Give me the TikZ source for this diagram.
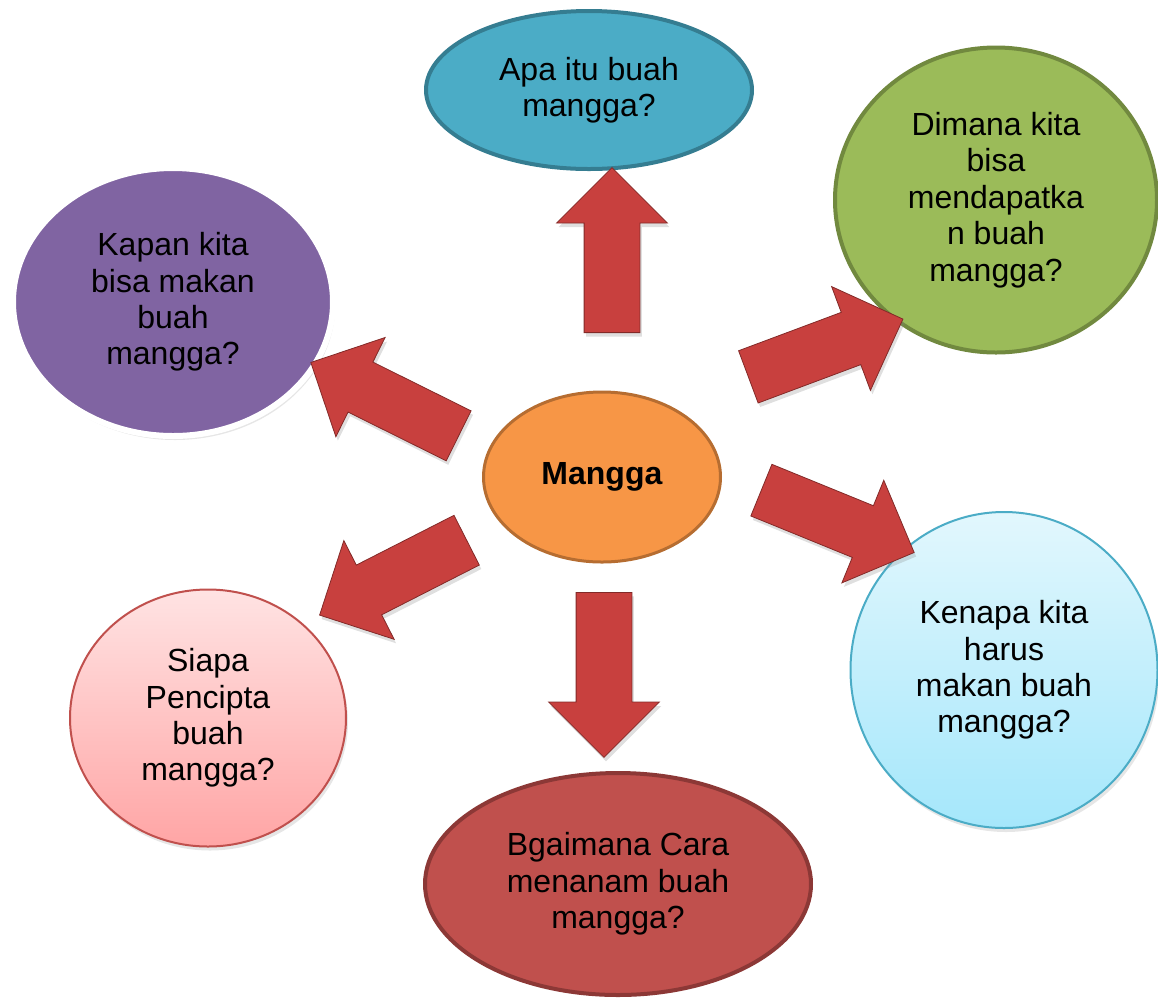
\documentclass[tikz,border=0pt]{standalone}
\usepackage{fontspec}
\setmainfont{Liberation Sans}
\usetikzlibrary{shapes.geometric, shapes.arrows, shadows}

\definecolor{tealfill}{HTML}{4BACC6}
\definecolor{tealline}{HTML}{357D91}
\definecolor{greenfill}{HTML}{9BBB59}
\definecolor{greenline}{HTML}{71893F}
\definecolor{purplefill}{HTML}{8064A2}
\definecolor{orangefill}{HTML}{F79646}
\definecolor{orangeline}{HTML}{B66D31}
\definecolor{redfill}{HTML}{C0504D}
\definecolor{redline}{HTML}{8C3836}
\definecolor{skytop}{HTML}{E2F7FD}
\definecolor{skybottom}{HTML}{A5E7FB}
\definecolor{pinktop}{HTML}{FFE3E3}
\definecolor{pinkbottom}{HTML}{FFA5A5}
\definecolor{arrowred}{HTML}{C8403E}

\tikzset{
	bubble/.style={ellipse, inner sep=0pt, align=center, text=black,
		font=\fontsize{16}{18.2}\selectfont},
	fatarrow/.style={single arrow, anchor=tail, draw=arrowred!65!black, line width=0.4pt,
		fill=arrowred, inner xsep=0pt, inner ysep=13.75pt,
		minimum width=55pt, minimum height=82.5pt,
		single arrow head extend=13.75pt, single arrow tip angle=90,
		drop shadow={shadow xshift=1pt, shadow yshift=-2pt, opacity=0.25}},
	softshadow/.style={drop shadow={shadow xshift=1pt, shadow yshift=-2pt, opacity=0.2}},
}

\begin{document}
\begin{tikzpicture}[x=0.5pt, y=-0.5pt]
\useasboundingbox (0,0) rectangle (1158,998);

% centre
\node [bubble, fill=orangefill, draw=orangeline, line width=1.5pt,
	minimum width=118.5pt, minimum height=85pt] (mangga) at (602,477) {\textbf{Mangga}};

% questions
\node [bubble, fill=tealfill, draw=tealline, line width=2pt,
	minimum width=163pt, minimum height=79pt] (apa) at (589,90) {Apa itu buah\\mangga?};
\node [bubble, fill=greenfill, draw=greenline, line width=2pt,
	minimum width=161pt, minimum height=152.5pt] (dimana) at (996,200)
	{Dimana kita\\bisa\\mendapatka\\n buah\\mangga?};
\node [bubble, softshadow, fill=purplefill, draw=white, line width=3pt,
	minimum width=160pt, minimum height=134pt] (kapan) at (173,302)
	{Kapan kita\\bisa makan\\buah\\mangga?};
\node [bubble, softshadow, top color=skytop, bottom color=skybottom, draw=tealfill, line width=1pt,
	minimum width=153.5pt, minimum height=158pt] (kenapa) at (1004,670)
	{Kenapa kita\\harus\\makan buah\\mangga?};
\node [bubble, softshadow, top color=pinktop, bottom color=pinkbottom, draw=redfill, line width=1pt,
	minimum width=138pt, minimum height=128.5pt] (siapa) at (208,718)
	{Siapa\\Pencipta\\buah\\mangga?};
\node [bubble, fill=redfill, draw=redline, line width=2pt,
	minimum width=193pt, minimum height=111pt] (bgaimana) at (618,884)
	{Bgaimana Cara\\menanam buah\\mangga?};

% arrows (placed by their tails)
\node [fatarrow, rotate=90] (toApa) at (612,333) {};
\node [fatarrow, rotate=20.5] (toDimana) at (748,377) {};
\node [fatarrow, rotate=153.6] (toKapan) at (459,436) {};
\node [fatarrow, rotate=207] (toSiapa) at (467,540) {};
\node [fatarrow, rotate=-90] (toBgaimana) at (604,592) {};
\node [fatarrow, rotate=-22.2] (toKenapa) at (761,490) {};

\end{tikzpicture}
\end{document}
